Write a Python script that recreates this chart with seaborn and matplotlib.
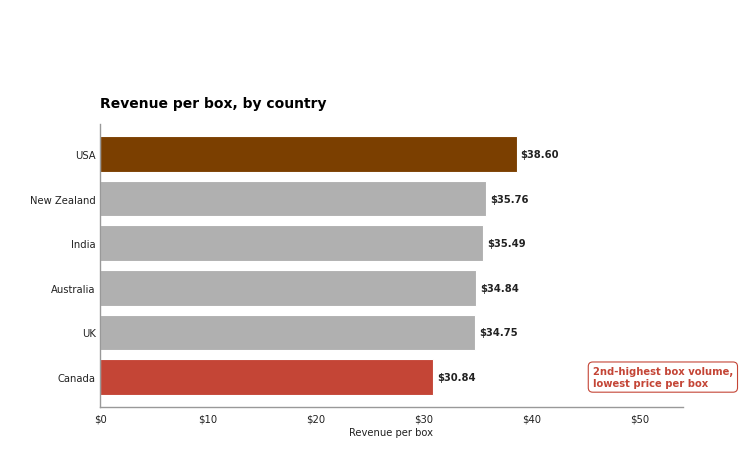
import seaborn as sns
import matplotlib.pyplot as plt
import pandas as pd

countries = ['USA', 'New Zealand', 'India', 'Australia', 'UK', 'Canada']
revenue = [38.60, 35.76, 35.49, 34.84, 34.75, 30.84]
bar_colors = ['#7b3f00', '#b0b0b0', '#b0b0b0', '#b0b0b0', '#b0b0b0', '#c44536']

df = pd.DataFrame({'Country': countries, 'Revenue': revenue})

sns.set_style('white')
plt.rcParams['font.family'] = ['DejaVu Sans']
fig = plt.figure(figsize=(7.55, 4.64), dpi=100)
ax = fig.add_axes([0.1325, 0.1207, 0.772, 0.61])

sns.barplot(data=df, y='Country', x='Revenue', hue='Country',
            palette=bar_colors, legend=False, width=0.8, saturation=1,
            edgecolor='white', linewidth=0.8, ax=ax)

for i, v in enumerate(revenue):
    ax.text(v + 0.35, i, f'${v:.2f}', va='center', ha='left',
            fontsize=7.2, fontweight='bold', color='#222222')

ax.set_xlim(0, 54)
ax.set_ylim(5.67, -0.67)
ax.set_xticks([0, 10, 20, 30, 40, 50])
ax.set_xticklabels(['$0', '$10', '$20', '$30', '$40', '$50'])
ax.tick_params(axis='both', labelsize=7.2, colors='#222222', length=2.5, pad=2)
ax.tick_params(axis='y', length=0, pad=3)
ax.set_xlabel('Revenue per box', fontsize=7.2, color='#222222', labelpad=3)
ax.set_ylabel('')
ax.set_title('Revenue per box, by country', fontsize=10, fontweight='bold',
             loc='left', pad=12, color='black')

sns.despine(ax=ax)
for s in ['left', 'bottom']:
    ax.spines[s].set_color('#999999')
    ax.spines[s].set_linewidth(1.0)

ax.text(45.65, 5.0, '2nd-highest box volume,\nlowest price per box',
        va='center', ha='left', fontsize=7.2, fontweight='bold', color='#c44536',
        linespacing=1.15,
        bbox=dict(boxstyle='round,pad=0.45', fc='white', ec='#c44536', lw=0.8))

fig.savefig('out.png', dpi=100)
